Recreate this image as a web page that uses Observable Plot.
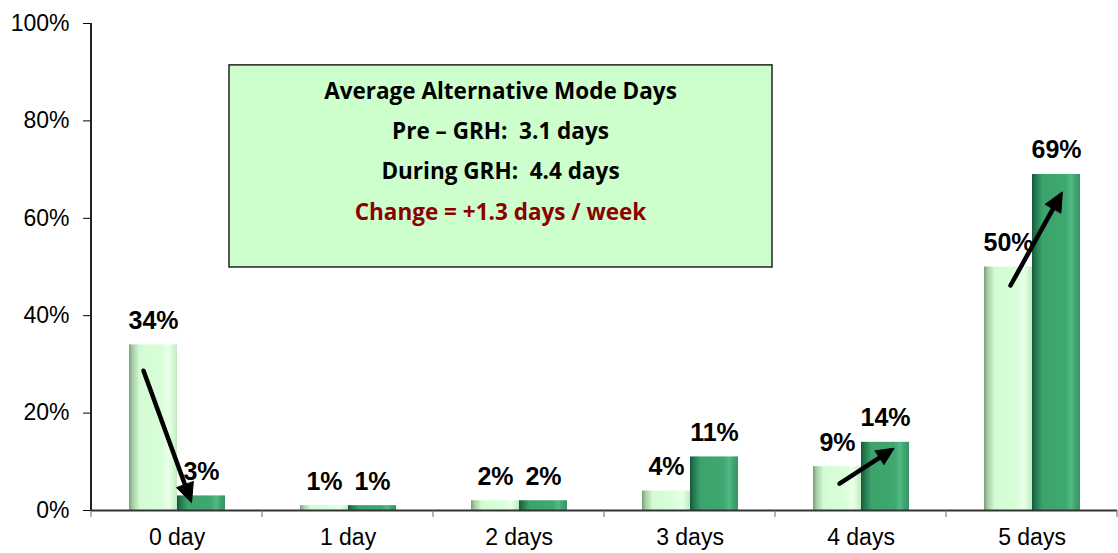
<!DOCTYPE html>
<html>
<head>
<meta charset="utf-8">
<script src="https://cdn.jsdelivr.net/npm/d3@7"></script>
<script src="https://cdn.jsdelivr.net/npm/@observablehq/plot@0.6"></script>
<style>
  html, body { margin: 0; padding: 0; background: #fff; }
  #chart { position: relative; width: 1118px; height: 553px; }
  #chart svg text { font-family: "Liberation Sans", Arial, sans-serif; }
  #chart svg g.box text { font-family: "Open Sans", Lato, sans-serif; }
</style>
</head>
<body>
<div id="chart"></div>
<script>
// ---- data ----
const categories = ["0 day", "1 day", "2 days", "3 days", "4 days", "5 days"];
const seriesNames = ["Pre-GRH", "During GRH"];
const preValues = [0.34, 0.01, 0.02, 0.04, 0.09, 0.50];
const duringValues = [0.03, 0.01, 0.02, 0.11, 0.14, 0.69];
const yTicks = [0, 0.2, 0.4, 0.6, 0.8, 1.0];
// arrows (category, start value on Pre bar, end value on During bar)
const arrowCats = ["0 day", "4 days", "5 days"];
const arrowFrom = [0.287, 0.055, 0.462];
const arrowTo = [0.016, 0.119, 0.64];
const boxLines = [
  "Average Alternative Mode Days",
  "Pre \u2013 GRH:  3.1 days",
  "During GRH:  4.4 days",
  "Change = +1.3 days / week"
];

const data = [];
categories.forEach((c, i) => {
  data.push({cat: c, series: seriesNames[0], value: preValues[i]});
  data.push({cat: c, series: seriesNames[1], value: duringValues[i]});
});
const arrows = arrowCats.map((c, i) => ({cat: c, y1: arrowFrom[i], y2: arrowTo[i]}));

const arrowOpts = {fx: "cat", x1: () => seriesNames[0], x2: () => seriesNames[1], y1: "y1", y2: "y2",
  stroke: "#000", strokeWidth: 4.5, headLength: 7, headAngle: 50};

const plot = Plot.plot({
  width: 1118,
  height: 553,
  marginLeft: 90,
  marginRight: 1,
  marginTop: 23,
  marginBottom: 43,
  style: {fontFamily: "'Liberation Sans', Arial, sans-serif", fontSize: "23px", color: "#000", background: "#fff"},
  fx: {domain: categories, padding: 0, label: null, axis: "bottom", tickSize: 0, tickPadding: 18},
  x: {domain: seriesNames, paddingInner: 0, paddingOuter: 0.748, axis: null},
  y: {domain: [0, 1], ticks: yTicks, tickFormat: d3.format(".0%"), tickSize: 8, tickPadding: 14, label: null},
  color: {type: "ordinal", domain: seriesNames, range: ["url(#gPre)", "url(#gDur)"]},
  marks: [
    Plot.barY(data, {fx: "cat", x: "series", y: "value", fill: "series"}),
    Plot.ruleY([0], {stroke: "#333", strokeWidth: 2}),
    Plot.text(data, {fx: "cat", x: "series", y: "value", text: d => d3.format(".0%")(d.value),
      lineAnchor: "bottom", dy: -16, fontWeight: "bold", fontSize: 25, fill: "#000"}),
    Plot.arrow(arrows.filter(d => d.cat === "0 day"), {...arrowOpts, dx: -10}),
    Plot.arrow(arrows.filter(d => d.cat !== "0 day"), {...arrowOpts, dx: 2, insetEnd: -8})
  ]
});

const svg = d3.select(plot);
const defs = svg.insert("defs", ":first-child");
function grad(id, stops) {
  const g = defs.append("linearGradient").attr("id", id).attr("x1", "0").attr("x2", "1").attr("y1", "0").attr("y2", "0");
  stops.forEach(([o, c]) => g.append("stop").attr("offset", o).attr("stop-color", c));
}
grad("gPre", [[0, "#7a9e7a"], [0.08, "#a9cfa9"], [0.22, "#d3fbd3"], [0.7, "#daffda"], [0.82, "#ebffeb"], [0.9, "#d6fbd6"], [1, "#c3e9c3"]]);
grad("gDur", [[0, "#17573a"], [0.08, "#237a50"], [0.22, "#3ca36c"], [0.7, "#3fa770"], [0.82, "#52ba86"], [0.9, "#3fa56f"], [1, "#369463"]]);

// turn the arrow heads drawn by Plot into filled triangles
svg.selectAll("g[aria-label='arrow'] path").each(function() {
  const nums = (this.getAttribute("d").match(/-?\d*\.?\d+(?:e-?\d+)?/gi) || []).map(Number);
  if (nums.length < 10) return;
  const [x1, y1, x2, y2, ax, ay, , , bx, by] = nums;
  const len = Math.hypot(x2 - x1, y2 - y1);
  const k = (len - 10) / len;
  this.setAttribute("d", `M${x1},${y1}L${x1 + (x2 - x1) * k},${y1 + (y2 - y1) * k}`);
  d3.select(this.parentNode).append("path")
    .attr("d", `M${ax},${ay}L${x2},${y2}L${bx},${by}Z`)
    .attr("fill", "#000").attr("stroke", "#000").attr("stroke-width", 1).attr("stroke-linejoin", "miter");
});

const y = plot.scale("y");
const fx = plot.scale("fx");
const y0 = y.apply(0), y1 = y.apply(1);
const xLeft = fx.apply(categories[0]);
// y axis line
svg.append("line").attr("x1", xLeft).attr("x2", xLeft).attr("y1", y1).attr("y2", y0 + 1)
  .attr("stroke", "#222").attr("stroke-width", 2);
// category boundary ticks
const bounds = categories.map(c => fx.apply(c)).concat([fx.apply(categories[categories.length - 1]) + fx.bandwidth]);
bounds.forEach(b => svg.append("line").attr("x1", b).attr("x2", b).attr("y1", y0).attr("y2", y0 + 7)
  .attr("stroke", "#666").attr("stroke-width", 1));

// annotation box
const bx = 229, bw = 543;
const by = y.apply(0.914), bh = y.apply(0.499) - by;
const box = svg.append("g").attr("class", "box").attr("font-weight", "bold");
box.append("rect").attr("x", bx).attr("y", by).attr("width", bw).attr("height", bh)
  .attr("fill", "#ccffcc").attr("stroke", "#222").attr("stroke-width", 1.5);
boxLines.forEach((t, i) => box.append("text").attr("x", bx + bw / 2).attr("y", by + 28 + i * 40.3)
  .attr("text-anchor", "middle").attr("dominant-baseline", "middle").attr("font-size", 22.5)
  .attr("fill", i === 3 ? "#8b0000" : "#000").text(t));

document.getElementById("chart").appendChild(plot);
</script>
</body>
</html>
